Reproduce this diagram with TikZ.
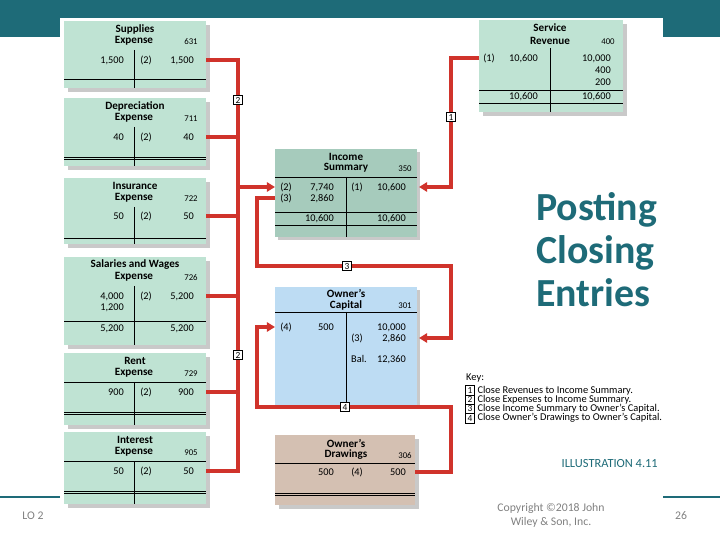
\documentclass[tikz,border=0pt]{standalone}
\usepackage{fontspec}
\setmainfont{Carlito}
\usepackage{tikz}
\usetikzlibrary{arrows.meta,positioning,calc}
\definecolor{slideteal}{HTML}{1E6B78}
\definecolor{acctgreen}{HTML}{BFE3D3}
\definecolor{sumgreen}{HTML}{A6CBBC}
\definecolor{capblue}{HTML}{BDDCF3}
\definecolor{drawtan}{HTML}{D4C0B2}
\definecolor{shadegray}{HTML}{C9C9C9}
\definecolor{closered}{HTML}{D0332B}
\definecolor{footgray}{HTML}{808080}
\tikzset{
  ttl/.style={font=\bfseries\fontsize{9.5}{10}\selectfont, inner sep=0pt},
  val/.style={font=\fontsize{8.8}{10}\selectfont, inner sep=0pt,
    text height=1.5ex, text depth=0.3ex},
  acno/.style={val, font=\fontsize{7.5}{8}\selectfont},
  rule/.style={line width=0.7pt, black},
  closeline/.style={closered, line width=2.9pt},
  closearrow/.style={closeline, -{Triangle[length=7pt,width=8pt]}},
  stepno/.style={draw, fill=white, line width=0.5pt, inner sep=0pt,
    minimum size=7.6pt, font=\fontsize{8}{8}\selectfont},
  keytxt/.style={font=\fontsize{8.9}{10}\selectfont, inner sep=0pt},
  headtxt/.style={font=\bfseries\fontsize{34}{36}\selectfont, text=slideteal,
    inner sep=0pt, anchor=base west},
  foot/.style={font=\fontsize{10}{12}\selectfont, text=footgray, inner sep=0pt},
}

\begin{document}
\begin{tikzpicture}[x=0.03cm,y=-0.03cm]
  \useasboundingbox (0,0) rectangle (720,540);
  % slide frame
  \fill[slideteal] (0,0) rectangle (720,37);
  \fill[white] (60,18) rectangle (663,497);
  \draw[slideteal, line width=1.6pt] (0,497) -- (60,497) (663,497) -- (720,497);

  % expense accounts (left column)
  \foreach \n/\tp/\bt/\yr/\ta/\acn in {sup/21/88/60/Supplies/631,
      dep/98/166/137/Depreciation/711, ins/178/244/216/Insurance/722,
      sal/257/345/296/Salaries and Wages/726, rent/353/425/392/Rent/729,
      int/432/504/471/Interest/905} {
    \fill[shadegray] (68,\tp+4) rectangle (210,\bt+4);
    \fill[acctgreen] (64,\tp) rectangle (206,\bt);
    \draw[rule] (134,\tp+29) -- (134,\bt);
    \node[ttl] (\n-ttl) at (135,\tp+8) {\ta};
    \node[ttl] (\n-ttl2) at (134,\tp+20) {Expense};
    \node[acno] (\n-no) at (191,\tp+20) {\acn};
    \node[val] (\n-ref) at (146,\yr) {(2)};
    \coordinate (\n-out) at (206,\yr);
  }
  \node[val, anchor=east] (sup-dr) at (124,60) {1,500};
  \node[val, anchor=east] (sup-cr) at (194,60) {1,500};
  \draw[rule] (64,79) -- (206,79);
  \node[val, anchor=east] (dep-dr) at (124,137) {40};
  \node[val, anchor=east] (dep-cr) at (194,137) {40};
  \draw[rule] (64,157) -- (206,157) (64,159.5) -- (206,159.5);
  \node[val, anchor=east] (ins-dr) at (124,216) {50};
  \node[val, anchor=east] (ins-cr) at (194,216) {50};
  \draw[rule] (64,238) -- (206,238);
  \node[val, anchor=east] (sal-dr) at (124,296) {4,000};
  \node[val, anchor=east] (sal-dr2) at (124,307) {1,200};
  \node[val, anchor=east] (sal-cr) at (194,296) {5,200};
  \draw[rule] (64,321) -- (206,321);
  \node[val, anchor=east] (sal-tot) at (124,328) {5,200};
  \node[val, anchor=east] (sal-tot2) at (194,328) {5,200};
  \draw[rule] (64,382) -- (206,382);
  \node[val, anchor=east] (rent-dr) at (124,392) {900};
  \node[val, anchor=east] (rent-cr) at (194,392) {900};
  \draw[rule] (64,412) -- (206,412) (64,414.5) -- (206,414.5);
  \draw[rule] (64,461) -- (206,461);
  \node[val, anchor=east] (int-dr) at (124,471) {50};
  \node[val, anchor=east] (int-cr) at (194,471) {50};
  \draw[rule] (64,491) -- (206,491) (64,493.5) -- (206,493.5);

  % service revenue
  \fill[shadegray] (483,24) rectangle (627,116);
  \fill[acctgreen] (479,20) rectangle (623,112);
  \draw[rule] (550,48) -- (550,112);
  \draw[rule] (479,90) -- (623,90) (479,103) -- (623,103);
  \node[ttl] (rev-ttl) at (550,28) {Service};
  \node[ttl] (rev-ttl2) at (550,41) {Revenue};
  \node[acno] (rev-no) at (608,41) {400};
  \node[val] (rev-ref) at (489,58) {(1)};
  \node[val, anchor=east] (rev-dr) at (538,58) {10,600};
  \node[val, anchor=east] (rev-cr) at (611,58) {10,000};
  \node[val, anchor=east] (rev-cr2) at (611,70) {400};
  \node[val, anchor=east] (rev-cr3) at (611,82) {200};
  \node[val, anchor=east] (rev-tot) at (538,96) {10,600};
  \node[val, anchor=east] (rev-tot2) at (611,96) {10,600};
  \coordinate (rev-out) at (479,58);

  % income summary
  \fill[shadegray] (278,152) rectangle (420,240);
  \fill[sumgreen] (275,149) rectangle (417,237);
  \draw[rule] (275,177) -- (417,177) (275,212) -- (417,212) (275,225) -- (417,225);
  \draw[rule] (346,177) -- (346,237);
  \node[ttl] (sum-ttl) at (346,157) {Income};
  \node[ttl] (sum-ttl2) at (346,168) {Summary};
  \node[acno] (sum-no) at (405,168) {350};
  \node[val] (sum-ref2) at (286,187) {(2)};
  \node[val, anchor=east] (sum-dr) at (334,187) {7,740};
  \node[val] (sum-ref3) at (286,198) {(3)};
  \node[val, anchor=east] (sum-dr2) at (334,198) {2,860};
  \node[val] (sum-ref1) at (357,187) {(1)};
  \node[val, anchor=east] (sum-cr) at (406,187) {10,600};
  \node[val, anchor=east] (sum-tot) at (334,218) {10,600};
  \node[val, anchor=east] (sum-tot2) at (406,218) {10,600};
  \coordinate (sum-in1) at (419,187);
  \coordinate (sum-in2) at (275,187);
  \coordinate (sum-out3) at (275,198);

  % owner's capital
  \fill[shadegray] (278,290) rectangle (420,408);
  \fill[capblue] (275,287) rectangle (417,405);
  \draw[rule] (275,312) -- (417,312);
  \draw[rule] (346,312) -- (346,405);
  \node[ttl] (cap-ttl) at (346,293) {Owner's};
  \node[ttl] (cap-ttl2) at (346,305) {Capital};
  \node[acno] (cap-no) at (405,305) {301};
  \node[val] (cap-ref4) at (286,327) {(4)};
  \node[val, anchor=east] (cap-dr) at (334,327) {500};
  \node[val, anchor=east] (cap-cr) at (406,327) {10,000};
  \node[val] (cap-ref3) at (357,338) {(3)};
  \node[val, anchor=east] (cap-cr2) at (406,338) {2,860};
  \node[val] (cap-bal) at (359,359) {Bal.};
  \node[val, anchor=east] (cap-bal2) at (406,359) {12,360};
  \coordinate (cap-in3) at (419,338);
  \coordinate (cap-in4) at (275,327);

  % owner's drawings
  \fill[shadegray] (279,439) rectangle (419,509);
  \fill[drawtan] (275,435) rectangle (415,505);
  \draw[rule] (275,463) -- (415,463);
  \draw[rule] (275,493) -- (415,493) (275,495.5) -- (415,495.5);
  \node[ttl] (drw-ttl) at (346,443) {Owner's};
  \node[ttl] (drw-ttl2) at (346,455) {Drawings};
  \node[acno] (drw-no) at (405,455) {306};
  \node[val, anchor=east] (drw-dr) at (334,472) {500};
  \node[val] (drw-ref) at (357,472) {(4)};
  \node[val, anchor=east] (drw-cr) at (406,472) {500};
  \coordinate (drw-out) at (415,472);

  % closing connectors
  \coordinate (bus1) at (451,0);
  \coordinate (bus2) at (238,0);
  \coordinate (bus3) at (257,0);
  \coordinate (row3) at (0,266);
  \coordinate (row4) at (0,407);
  \draw[closeline] (sup-out) -- (sup-out -| bus2) -- (int-out -| bus2) -- (int-out);
  \foreach \n in {dep,ins,sal,rent} \draw[closeline] (\n-out) -- (\n-out -| bus2);
  \draw[closearrow] (sum-in2 -| bus2) -- (sum-in2);
  \draw[closearrow] (rev-out) -- (rev-out -| bus1) -- (sum-in1 -| bus1) -- (sum-in1);
  \draw[closearrow] (sum-out3) -- (sum-out3 -| bus3) -- (row3 -| bus3)
    -- (row3 -| bus1) -- (cap-in3 -| bus1) -- (cap-in3);
  \draw[closearrow] (drw-out) -- (drw-out -| bus1) -- (row4 -| bus1)
    -- (row4 -| bus3) -- (cap-in4 -| bus3) -- (cap-in4);
  \node[stepno] (lbl2a) at (238,100) {2};
  \node[stepno] (lbl2b) at (238,355) {2};
  \node[stepno] (lbl1) at (451,117) {1};
  \node[stepno] (lbl3) at (347,266) {3};
  \node[stepno] (lbl4) at (345,407) {4};

  % key
  \node[keytxt, anchor=west] (key) at (466,378) {Key:};
  \foreach \i/\txt in {1/Close Revenues to Income Summary.,
      2/Close Expenses to Income Summary.,
      3/Close Income Summary to Owner's Capital.,
      4/Close Owner's Drawings to Owner's Capital.} {
    \node[stepno, minimum size=7.9pt] (key\i) at (470,381+\i*9.3) {\i};
    \node[keytxt, right=2pt of key\i] (keytxt\i) {\txt};
  }
  \node[font=\fontsize{10.6}{12}\selectfont, text=slideteal, inner sep=0pt,
        anchor=east] (illus) at (658,464) {ILLUSTRATION 4.11};

  % slide title
  \node[headtxt] (head1) at (536,221) {Posting};
  \node[headtxt] (head2) at (536,264) {Closing};
  \node[headtxt] (head3) at (536,307) {Entries};

  % footer
  \node[foot] (lo) at (33,516) {LO 2};
  \node[foot, align=center] (copy) at (551,515) {Copyright ©2018 John\\Wiley \& Son, Inc.};
  \node[foot] (page) at (681,516) {26};
\end{tikzpicture}
\end{document}
